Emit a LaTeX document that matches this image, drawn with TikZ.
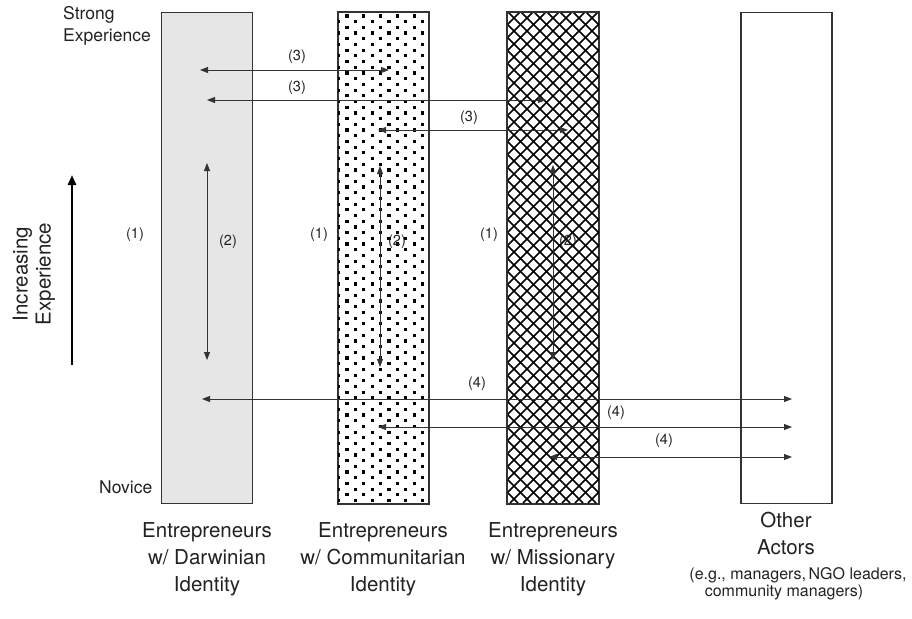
\documentclass[tikz,border=0pt]{standalone}
\usepackage{fontspec}
\setmainfont{TeX Gyre Heros}
\usetikzlibrary{arrows.meta}
\definecolor{panelgray}{HTML}{E6E6E6}
\definecolor{inkgray}{HTML}{333333}
\definecolor{textink}{HTML}{222222}
\begin{document}
\begin{tikzpicture}[x=1pt,y=-1pt,
  column/.style={draw=inkgray,line width=1.1pt,minimum width=91pt,
    minimum height=491pt,inner sep=0pt,anchor=north},
  frame/.style={draw=inkgray,line width=1.1pt},
  link/.style={draw=inkgray,line width=0.9pt,
    {Triangle[length=8pt,width=6pt]}-{Triangle[length=8pt,width=6pt]}},
  tag/.style={font=\fontsize{14.5}{17}\selectfont,text=textink,inner sep=0pt},
  caption/.style={font=\fontsize{20.5}{27}\selectfont,text=textink,
    align=center,anchor=north,inner sep=0pt},
  small/.style={font=\fontsize{16}{17}\selectfont,text=textink,inner sep=0pt},
  side/.style={font=\fontsize{17.5}{22}\selectfont,text=textink,inner sep=0pt},
  hatchline/.style={black,line width=1.5pt},
]
\useasboundingbox (0,0) rectangle (912,618);

% the four identity columns
\node[column,fill=panelgray] (dar) at (207,12) {};
\node[column,fill=white] (com) at (383.5,12) {};
\node[column,fill=white] (mis) at (553,12) {};
\node[column,fill=white] (oth) at (786.5,12) {};

% staggered square dots in the communitarian column
\begin{scope}
  \clip (com.north west) rectangle (com.south east);
  \foreach \r in {0,...,87}{
    \pgfmathsetmacro{\yy}{16+5.7*\r}
    \pgfmathsetmacro{\xo}{330.2+8.4*mod(\r,2)}
    \foreach \c in {0,...,6}{
      \fill[black] (\xo+16.8*\c-1.6,\yy-1.6) rectangle ++(3.2,3.2);
    }
  }
\end{scope}

% cross-hatching in the missionary column
\begin{scope}
  \clip (mis.north west) rectangle (mis.south east);
  \foreach \a in {14,27,...,610}{
    \draw[hatchline] (\a,12) -- ++(491,491);
  }
  \foreach \a in {507,520,...,1110}{
    \draw[hatchline] (\a,12) -- ++(-491,491);
  }
\end{scope}
\draw[frame] (com.north west) rectangle (com.south east);
\draw[frame] (mis.north west) rectangle (mis.south east);

% experience scale on the left
\node[side,anchor=north west,align=left] (strong) at (63,6) {Strong\\Experience};
\node[side,anchor=west] (novice) at (99,487) {Novice};
\node[font=\fontsize{20.5}{23}\selectfont,text=textink,rotate=90,align=center]
  (incr) at (34,274) {Increasing\\Experience};
\coordinate (scaleLow) at (72,365);
\coordinate (scaleHigh) at (72,175);
\draw[black,line width=2.6pt,-{Triangle[length=10pt,width=8pt]}] (scaleLow) -- (scaleHigh);

% (1) labels
\node[tag] (one1) at (135,235) {(1)};
\node[tag] (one2) at (319,235) {(1)};
\node[tag] (one3) at (489,235) {(1)};

% (2) links within each column
\coordinate (d2t) at (207,163); \coordinate (d2b) at (207,360);
\coordinate (c2t) at (380,166); \coordinate (c2b) at (380,367);
\coordinate (m2t) at (553,165); \coordinate (m2b) at (553,360);
\draw[link] (d2t) -- (d2b);
\draw[link] (c2t) -- (c2b);
\draw[link] (m2t) -- (m2b);
\node[tag] (two1) at (228,242) {(2)};
\node[tag] (two2) at (397,242) {(2)};
\node[tag] (two3) at (568,242) {(2)};

% (3) links between entrepreneur types
\coordinate (r1a) at (200,70);  \coordinate (r1b) at (389,70);
\coordinate (r2a) at (207,100); \coordinate (r2b) at (546,100);
\coordinate (r3a) at (378,130); \coordinate (r3b) at (568,130);
\draw[link] (r1a) -- (r1b);
\draw[link] (r2a) -- (r2b);
\draw[link] (r3a) -- (r3b);
\node[tag] (three1) at (297,57) {(3)};
\node[tag] (three2) at (297,88) {(3)};
\node[tag] (three3) at (469,118) {(3)};

% (4) links to other actors
\coordinate (s1a) at (202,399); \coordinate (s1b) at (792,399);
\coordinate (s2a) at (378,427); \coordinate (s2b) at (792,427);
\coordinate (s3a) at (549,457); \coordinate (s3b) at (792,457);
\draw[link] (s1a) -- (s1b);
\draw[link] (s2a) -- (s2b);
\draw[link] (s3a) -- (s3b);
\node[tag] (four1) at (477,384) {(4)};
\node[tag] (four2) at (616,413) {(4)};
\node[tag] (four3) at (664,441) {(4)};

% column captions
\node[caption] (capD) at (207,522) {Entrepreneurs\\w/ Darwinian\\Identity};
\node[caption] (capC) at (383,522) {Entrepreneurs\\w/ Communitarian\\Identity};
\node[caption] (capM) at (553,522) {Entrepreneurs\\w/ Missionary\\Identity};
\node[caption] (capO) at (786,512) {Other\\Actors};
\node[small] (eg1) at (798,575) {(e.g., managers,\,NGO leaders,};
\node[small] (eg2) at (784,592) {community managers)};
\end{tikzpicture}
\end{document}
